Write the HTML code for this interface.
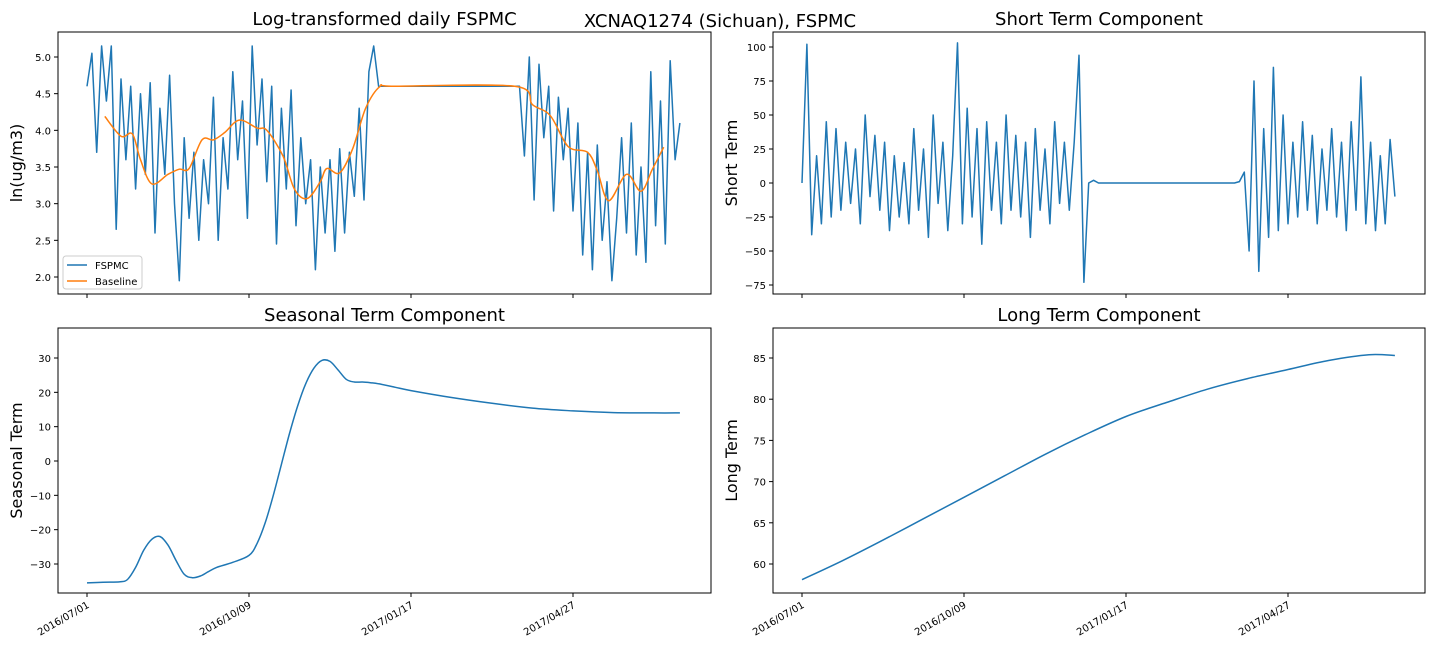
<!DOCTYPE html>
<html><head><meta charset="utf-8"><style>
body{margin:0;background:#fff;}
svg{display:block;font-family:"DejaVu Sans","Liberation Sans",sans-serif;}
</style></head><body>
<svg id="c" width="1440" height="648" xmlns="http://www.w3.org/2000/svg"></svg>
<script>
// ---- data ----
const fspmcStartDay = 0, fspmcStep = 3;
const fspmcValues = [4.6,5.05,3.7,5.15,4.4,5.15,2.65,4.7,3.6,4.6,
3.2,4.5,3.4,4.65,2.6,4.3,3.4,4.75,3.0,1.95,
3.9,2.8,3.7,2.5,3.6,3.0,4.45,2.5,3.9,3.2,
4.8,3.6,4.4,2.8,5.15,3.8,4.7,3.3,4.6,2.45,
4.3,3.2,4.55,2.7,3.9,3.0,3.6,2.1,3.5,2.6,
3.6,2.35,3.75,2.6,3.7,3.1,4.3,3.05,4.8,5.15,
4.6,4.6,4.6,4.6,4.6,4.6,4.6,4.6,4.6,4.6,4.6,4.6,4.6,4.6,4.6,4.6,4.6,4.6,4.6,4.6,4.6,4.6,4.6,4.6,4.6,4.6,4.6,4.6,4.6,4.6,
3.65,5.0,3.05,4.9,3.9,4.6,2.9,4.45,3.6,4.3,
2.9,4.1,2.3,3.7,2.1,3.8,2.5,3.3,1.95,2.8,
3.9,2.6,4.1,2.3,3.5,2.2,4.8,2.7,4.4,2.45,
4.95,3.6,4.1];
const baselineDays = [11,21,28,33,40,50,57,63,71,78,85,94,105,111,121,128,136,144,148,156,164,172,181,190,264,275,286,297,309,315,322,333,342,349,356];
const baselineValues = [4.19,3.92,3.95,3.6,3.27,3.4,3.47,3.48,3.87,3.87,3.97,4.14,4.03,4.0,3.65,3.2,3.07,3.3,3.48,3.42,3.75,4.3,4.6,4.6,4.6,4.35,4.2,3.78,3.7,3.45,3.04,3.4,3.17,3.47,3.77];
const shortValues = [0,102,-38,20,-30,45,-25,40,-20,30,
-15,25,-30,50,-10,35,-20,30,-35,20,
-25,15,-30,40,-20,25,-40,50,-15,30,
-35,20,103,-30,55,-25,40,-45,45,-20,
30,-30,50,-20,35,-25,30,-40,40,-20,
25,-30,45,-15,30,-20,30,94,-73,0,
2,0,0,0,0,0,0,0,0,0,0,0,0,0,0,0,0,0,0,0,0,0,0,0,0,0,0,0,0,0,1,8,
-50,75,-65,40,-40,85,-35,50,
-30,30,-25,45,-20,35,-30,25,-20,40,
-25,30,-35,45,-20,78,-30,30,-35,20,
-30,32,-10];
const seasonalDays = [0,10,20,25,30,35,40,45,50,55,60,65,70,75,80,90,100,105,110,115,120,125,130,135,140,145,150,155,160,165,170,175,180,190,200,225,250,275,300,325,350,366];
const seasonalValues = [-35.5,-35.3,-35.2,-34.5,-31,-26,-22.8,-22,-24.5,-29,-33,-34,-33.5,-32.2,-31,-29.5,-27.5,-24,-18,-10,-1,8,16,22.5,27,29.3,29,26.5,23.8,23,23,22.8,22.5,21.5,20.5,18.5,16.8,15.4,14.6,14.1,14.0,14.0];
const longDays = [0,25,50,75,100,125,150,175,200,225,250,275,300,325,350,366];
const longValues = [58.1,60.4,62.9,65.5,68.1,70.7,73.3,75.7,77.9,79.6,81.2,82.5,83.6,84.7,85.4,85.3];
const xTickDays = [0,100,200,300];
const xTickLabels = ["2016/07/01","2016/10/09","2017/01/17","2017/04/27"];
const tlTicks = [2.0,2.5,3.0,3.5,4.0,4.5,5.0];
const trTicks = [-75,-50,-25,0,25,50,75,100];
const blTicks = [-30,-20,-10,0,10,20,30];
const brTicks = [60,65,70,75,80,85];

const NS="http://www.w3.org/2000/svg";
const svg=document.getElementById('c');
function mk(tag,attrs,parent){const e=document.createElementNS(NS,tag);for(const k in attrs)e.setAttribute(k,attrs[k]);(parent||svg).appendChild(e);return e;}

const panels={
 tl:{x0:58,x1:711,y0:32,y1:294,dx0:87,v0:5,py0:57,v1:2,py1:277},
 tr:{x0:773,x1:1425,y0:32,y1:294,dx0:802,v0:100,py0:47,v1:-75,py1:285},
 bl:{x0:58,x1:711,y0:328,y1:593,dx0:87,v0:30,py0:358,v1:-30,py1:564},
 br:{x0:773,x1:1425,y0:328,y1:593,dx0:802,v0:85,py0:358,v1:60,py1:564}
};
const PXD=1.62;
function X(p,d){return p.dx0+d*PXD;}
function Y(p,v){return p.py0+(p.v0-v)*(p.py1-p.py0)/(p.v0-p.v1);}

function smoothPath(pts){
 let d='M'+pts[0][0].toFixed(1)+','+pts[0][1].toFixed(1);
 for(let i=0;i<pts.length-1;i++){
  const p0=pts[Math.max(0,i-1)],p1=pts[i],p2=pts[i+1],p3=pts[Math.min(pts.length-1,i+2)];
  const c1=[p1[0]+(p2[0]-p0[0])/6,p1[1]+(p2[1]-p0[1])/6];
  const c2=[p2[0]-(p3[0]-p1[0])/6,p2[1]-(p3[1]-p1[1])/6];
  d+=' C'+c1[0].toFixed(1)+','+c1[1].toFixed(1)+' '+c2[0].toFixed(1)+','+c2[1].toFixed(1)+' '+p2[0].toFixed(1)+','+p2[1].toFixed(1);
 }
 return d;
}

function axes(key,ticks,fmt,ylabel,title,showX){
 const p=panels[key];
 const g=mk('g',{});
 
 
 ticks.forEach(t=>{
  const y=Y(p,t);
  const tk=mk('line',{x1:p.x0-4,x2:p.x0,y1:y,y2:y,stroke:'#000','stroke-width':1},g);
  
  
  const tx=mk('text',{x:p.x0-7,y:y+4,'font-size':10,'text-anchor':'end',fill:'#000'},g);
  
  
  tx.textContent=fmt(t);
 });
 xTickDays.forEach((d,i)=>{
  const x=X(p,d);
  const tk=mk('line',{x1:x,x2:x,y1:p.y1,y2:p.y1+4,stroke:'#000','stroke-width':1},g);
  
  
  if(showX){
   const tx=mk('text',{x:x+3,y:p.y1+14,'font-size':10,'text-anchor':'end',fill:'#000',transform:'rotate(-30 '+(x+3)+' '+(p.y1+14)+')'},g);
   
   
   tx.textContent=xTickLabels[i];
  }
 });
 const yl=mk('text',{x:0,y:0,'font-size':16,'text-anchor':'middle',fill:'#000',transform:'translate('+(p.x0-36)+','+((p.y0+p.y1)/2)+') rotate(-90)'},g);
 
 
 yl.textContent=ylabel;
 const tt=mk('text',{x:(p.x0+p.x1)/2,y:p.y0-7,'font-size':18,'text-anchor':'middle',fill:'#000'},g);
 
 
 tt.textContent=title;
 return g;
}
function frame(key){
 const p=panels[key];
 const r=mk('rect',{x:p.x0,y:p.y0,width:p.x1-p.x0,height:p.y1-p.y0,fill:'none',stroke:'#000','stroke-width':1});
 
 
}
function line(key,days,vals,color,name,smooth){
 const p=panels[key];
 const pts=vals.map((v,i)=>[X(p,days[i]),Y(p,v)]);
 const d=smooth?smoothPath(pts):'M'+pts.map(q=>q[0].toFixed(1)+','+q[1].toFixed(1)).join(' L');
 const e=mk('path',{d:d,fill:'none',stroke:color,'stroke-width':1.5,'stroke-linejoin':'round'});
 
 
}
const f1=v=>v.toFixed(1), f0=v=>String(v).replace('-','\u2212');
axes('tl',tlTicks,f1,'ln(ug/m3)','Log-transformed daily FSPMC',false);
axes('tr',trTicks,f0,'Short Term','Short Term Component',false);
axes('bl',blTicks,f0,'Seasonal Term','Seasonal Term Component',true);
axes('br',brTicks,f0,'Long Term','Long Term Component',true);

const fDays=fspmcValues.map((v,i)=>fspmcStartDay+i*fspmcStep);
line('tl',fDays,fspmcValues,'#1f77b4','fspmc-line',false);
line('tl',baselineDays,baselineValues,'#ff7f0e','baseline-line',true);
line('tr',fDays,shortValues,'#1f77b4','short-term-line',false);
line('bl',seasonalDays,seasonalValues,'#1f77b4','seasonal-line',true);
line('br',longDays,longValues,'#1f77b4','long-term-line',true);
['tl','tr','bl','br'].forEach(frame);

const sup=mk('text',{x:720,y:27,'font-size':18,'text-anchor':'middle',fill:'#000'});


sup.textContent='XCNAQ1274 (Sichuan), FSPMC';

const lg=mk('g',{});


mk('rect',{x:63,y:256,width:79,height:33,rx:3,fill:'#fff',stroke:'#ccc'},lg);
mk('line',{x1:67,x2:87,y1:265,y2:265,stroke:'#1f77b4','stroke-width':1.5},lg);
mk('line',{x1:67,x2:87,y1:281,y2:281,stroke:'#ff7f0e','stroke-width':1.5},lg);
const l1=mk('text',{x:95,y:269,'font-size':10,fill:'#000'},lg);


l1.textContent='FSPMC';
const l2=mk('text',{x:95,y:285,'font-size':10,fill:'#000'},lg);


l2.textContent='Baseline';
</script>
</body></html>
